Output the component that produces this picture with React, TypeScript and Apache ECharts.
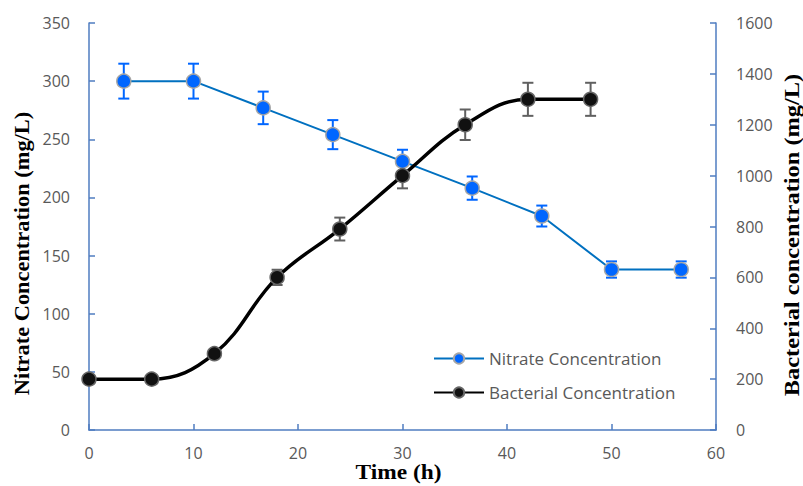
import React, { useEffect, useRef } from "react";
import * as echarts from "echarts";

const nitrateTime = [3.33, 10, 16.67, 23.33, 30, 36.67, 43.33, 50, 56.67];
const nitrateValues = [300, 300, 277, 254, 231, 208, 184, 138, 138];
const nitrateErrors = [15, 15, 14, 12.5, 10, 10, 9, 7, 7];

const bacteriaTime = [0, 6, 12, 18, 24, 30, 36, 42, 48];
const bacteriaValues = [200, 200, 300, 600, 790, 1000, 1200, 1300, 1300];
const bacteriaErrors = [0, 0, 0, 30, 45, 50, 60, 65, 65];

const xTicks = { min: 0, max: 60, interval: 10 };
const leftTicks = { min: 0, max: 350, interval: 50 };
const rightTicks = { min: 0, max: 1600, interval: 200 };

const AXIS_BLUE = "#4F7CC0";
const LABEL_GRAY = "#595959";
const FONT = "Open Sans";
const TITLE_FONT = "bold 20px 'Liberation Serif'";

function errorBarSeries(times: number[], values: number[], errs: number[], yAxisIndex: number, color: string) {
  const data = times.map((t, i) => [t, values[i], errs[i]]);
  return {
    type: "custom",
    yAxisIndex,
    z: 3,
    silent: true,
    data,
    renderItem: (params: any, api: any) => {
      const x = api.value(0);
      const y = api.value(1);
      const e = api.value(2);
      if (!e) return { type: "group", children: [] };
      const top = api.coord([x, y + e]);
      const bot = api.coord([x, y - e]);
      const w = 5.5;
      const style = { stroke: color, lineWidth: 2 };
      return {
        type: "group",
        children: [
          { type: "line", shape: { x1: top[0], y1: top[1], x2: bot[0], y2: bot[1] }, style },
          { type: "line", shape: { x1: top[0] - w, y1: top[1], x2: top[0] + w, y2: top[1] }, style },
          { type: "line", shape: { x1: bot[0] - w, y1: bot[1], x2: bot[0] + w, y2: bot[1] }, style },
        ],
      };
    },
  };
}

export default function App() {
  const ref = useRef<HTMLDivElement>(null);
  useEffect(() => {
    if (!ref.current) return;
    const chart = echarts.init(ref.current, null, { renderer: "svg" });
    const axisCommon = {
      axisLine: { show: true, lineStyle: { color: AXIS_BLUE, width: 1.5 } },
      axisTick: { show: true, inside: true, length: 6, lineStyle: { color: AXIS_BLUE, width: 1.5 } },
      splitLine: { show: false },
      axisLabel: { color: LABEL_GRAY, fontSize: 16, fontFamily: FONT, formatter: (v: number) => String(v) },
    };
    chart.setOption({
      animation: false,
      backgroundColor: "#ffffff",
      grid: { left: 89, right: 87, top: 23, bottom: 56 },
      xAxis: {
        type: "value",
        ...xTicks,
        ...axisCommon,
        axisLabel: { ...axisCommon.axisLabel, margin: 15 },
      },
      yAxis: [
        {
          type: "value",
          position: "left",
          ...leftTicks,
          ...axisCommon,
          axisLabel: { ...axisCommon.axisLabel, margin: 19 },
        },
        {
          type: "value",
          position: "right",
          ...rightTicks,
          ...axisCommon,
          axisLabel: { ...axisCommon.axisLabel, margin: 20 },
        },
      ],
      legend: {
        orient: "vertical",
        left: 428,
        top: 345,
        itemWidth: 50,
        itemHeight: 13,
        itemGap: 17,
        data: ["Nitrate Concentration", "Bacterial Concentration"],
        textStyle: { color: LABEL_GRAY, fontSize: 17, fontFamily: FONT },
      },
      graphic: [
        {
          type: "text",
          x: 22.5,
          y: 253.5,
          rotation: Math.PI / 2,
          scaleX: 1.12,
          style: { text: "Nitrate Concentration (mg/L)", font: TITLE_FONT, fill: "#000", align: "center", verticalAlign: "middle" },
        },
        {
          type: "text",
          x: 792,
          y: 235,
          rotation: Math.PI / 2,
          scaleX: 1.22,
          style: { text: "Bacterial concentration (mg/L)", font: TITLE_FONT, fill: "#000", align: "center", verticalAlign: "middle" },
        },
        {
          type: "text",
          x: 398.5,
          y: 473,
          scaleX: 1.17,
          style: { text: "Time (h)", font: TITLE_FONT, fill: "#000", align: "center", verticalAlign: "middle" },
        },
      ],
      series: [
        errorBarSeries(nitrateTime, nitrateValues, nitrateErrors, 0, "#0066FF"),
        errorBarSeries(bacteriaTime, bacteriaValues, bacteriaErrors, 1, "#606060"),
        {
          name: "Nitrate Concentration",
          type: "line",
          yAxisIndex: 0,
          z: 4,
          data: nitrateTime.map((t, i) => [t, nitrateValues[i]]),
          lineStyle: { color: "#0070C0", width: 2 },
          symbol: "circle",
          symbolSize: 14,
          itemStyle: { color: "#0066FF", borderColor: "#A6A6A6", borderWidth: 1.5 },
        },
        {
          name: "Bacterial Concentration",
          type: "line",
          yAxisIndex: 1,
          z: 5,
          smooth: 0.4,
          data: bacteriaTime.map((t, i) => [t, bacteriaValues[i]]),
          lineStyle: { color: "#000000", width: 3.5 },
          symbol: "circle",
          symbolSize: 14,
          itemStyle: { color: "#111111", borderColor: "#666666", borderWidth: 1.5 },
        },
      ],
    });
    return () => chart.dispose();
  }, []);
  return <div ref={ref} style={{ position: "fixed", left: 0, top: 0, width: 803, height: 486 }} />;
}
